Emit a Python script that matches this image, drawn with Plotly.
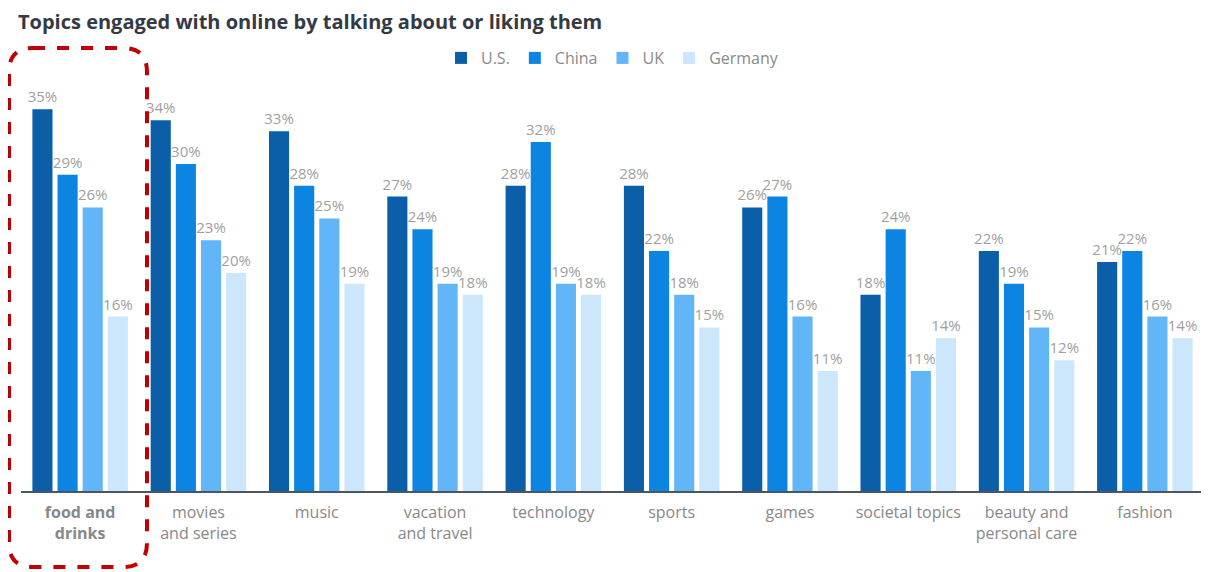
import plotly.graph_objects as go

categories = ["<b>food and<br>drinks</b>", "movies<br>and series", "music", "vacation<br>and travel",
              "technology", "sports", "games", "societal topics", "beauty and<br>personal care", "fashion"]
us = [35, 34, 33, 27, 28, 28, 26, 18, 22, 21]
china = [29, 30, 28, 24, 32, 22, 27, 24, 19, 22]
uk = [26, 23, 25, 19, 19, 18, 16, 11, 15, 16]
germany = [16, 20, 19, 18, 18, 15, 11, 14, 12, 14]
series_names = ["U.S.", "China", "UK", "Germany"]
colors = ["#0b5fa9", "#0b84e2", "#62b5f7", "#cce6fc"]

# page body has an 8px margin; figure coordinates are offset by it
OFF = 8
W, H = 1209 - OFF, 572 - OFF
ML, MR, MT, MB = 21 - OFF, 5, 93 - OFF, 81
PW, PH = W - ML - MR, H - MT - MB

fig = go.Figure()
for name, vals, col in zip(series_names, [us, china, uk, germany], colors):
    fig.add_trace(go.Bar(
        x=categories, y=vals, name=name, marker=dict(color=col, line=dict(width=0)),
        text=[f"{v}%" for v in vals], textposition="outside", constraintext="none",
        textfont=dict(color="#9f9f9f", size=15, family="Open Sans"),
        cliponaxis=False,
    ))

def P(px, py):
    # page pixel -> paper coordinates
    a = (px - OFF - ML) / PW
    b = (H - MB - (py - OFF)) / PH
    return f"{a:.5f},{b:.5f}"

x0, x1, y0, y1, r = 9, 147, 48, 567, 24
path = (f"M {P(x0 + r, y0)} L {P(x1 - r, y0)} Q {P(x1, y0)} {P(x1, y0 + r)} "
        f"L {P(x1, y1 - r)} Q {P(x1, y1)} {P(x1 - r, y1)} "
        f"L {P(x0 + r, y1)} Q {P(x0, y1)} {P(x0, y1 - r)} "
        f"L {P(x0, y0 + r)} Q {P(x0, y0)} {P(x0 + r, y0)} Z")
fig.add_shape(type="path", path=path, xref="paper", yref="paper",
              line=dict(color="#c00000", width=4, dash="dash"), layer="above")

fig.update_layout(
    width=W, height=H,
    margin=dict(l=ML, r=MR, t=MT, b=MB, autoexpand=False),
    paper_bgcolor="white", plot_bgcolor="white",
    barmode="group", bargap=0.15, bargroupgap=0.2,
    font=dict(family="Open Sans", color="#888888"),
    title=dict(text="<b>Topics engaged with online by talking about or liking them</b>",
               x=(18 - OFF) / W, xanchor="left", xref="container",
               y=1 - (22 - OFF) / H, yanchor="middle", yref="container",
               font=dict(size=20, color="#333a44", family="Open Sans")),
    legend=dict(orientation="h", x=0.5, xanchor="center", y=(H - MB - (58 - OFF)) / PH, yanchor="middle",
                font=dict(size=16, color="#8a8a8a"), itemwidth=30, traceorder="normal"),
    xaxis=dict(showgrid=False, showline=True, linecolor="#4d5560", linewidth=2,
               ticks="", tickfont=dict(size=16, color="#888888"), ticklabelstandoff=6),
    yaxis=dict(visible=False, range=[0, 36.5]),
    showlegend=True,
)
fig.write_html("out.html")
